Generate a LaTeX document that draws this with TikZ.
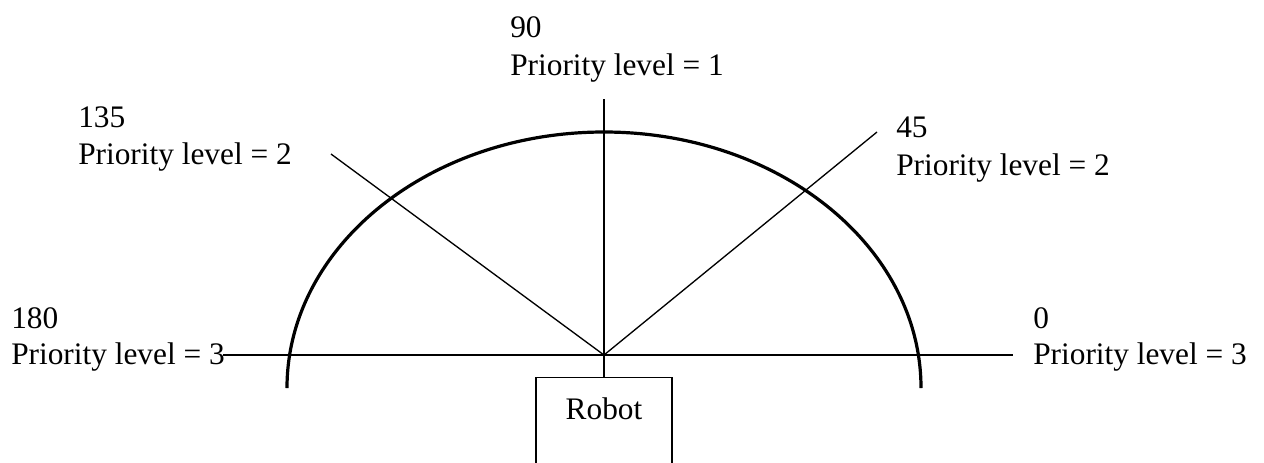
\documentclass[tikz,border=0pt]{standalone}
\usepackage{fontspec}
\setmainfont{Liberation Serif}
\begin{document}
\begin{tikzpicture}[x=0.75pt,y=-0.75pt,
  lbl/.style={inner sep=0pt,anchor=base west,font=\fontsize{23.5pt}{28pt}\selectfont},
  ray/.style={draw=black,line width=1pt},
  rim/.style={draw=black,line width=2.4pt},
  robotbox/.style={draw=black,line width=1pt,anchor=north,minimum width=102pt,
    inner xsep=0pt,inner ysep=14.7pt,text depth=60pt,
    font=\fontsize{23.5pt}{28pt}\selectfont}]
\clip (0,0) rectangle (1264,462);
\fill[white] (0,0) rectangle (1264,462);
% centre and ray ends
\coordinate (c) at (604,355);
\coordinate (e90) at (604,99);
\coordinate (e135) at (331,154);
\coordinate (e45) at (877,132);
\coordinate (eW) at (223,355);
\coordinate (eE) at (1013,355);
% robot
\node[robotbox] (robot) at (604,377) {Robot};
% rim (half ellipse)
\draw[rim] (287,388) arc[start angle=180,end angle=0,x radius=237.75pt,y radius=192pt];
% rays
\draw[ray] (eW) -- (eE);
\draw[ray] (e90) -- (robot.north);
\draw[ray] (c) -- (e135);
\draw[ray] (c) -- (e45);
% labels
\node[lbl] (t90) at (510,37) {90};
\node[lbl] (p90) at (510,75) {Priority level = 1};
\node[lbl] (t135) at (78,127) {135};
\node[lbl] (p135) at (78,164) {Priority level = 2};
\node[lbl] (t45) at (896,137) {45};
\node[lbl] (p45) at (896,175) {Priority level = 2};
\node[lbl] (t180) at (11,328) {180};
\node[lbl] (p180) at (11,364) {Priority level = 3};
\node[lbl] (t0) at (1033,328) {0};
\node[lbl] (p0) at (1033,364) {Priority level = 3};
\end{tikzpicture}
\end{document}
